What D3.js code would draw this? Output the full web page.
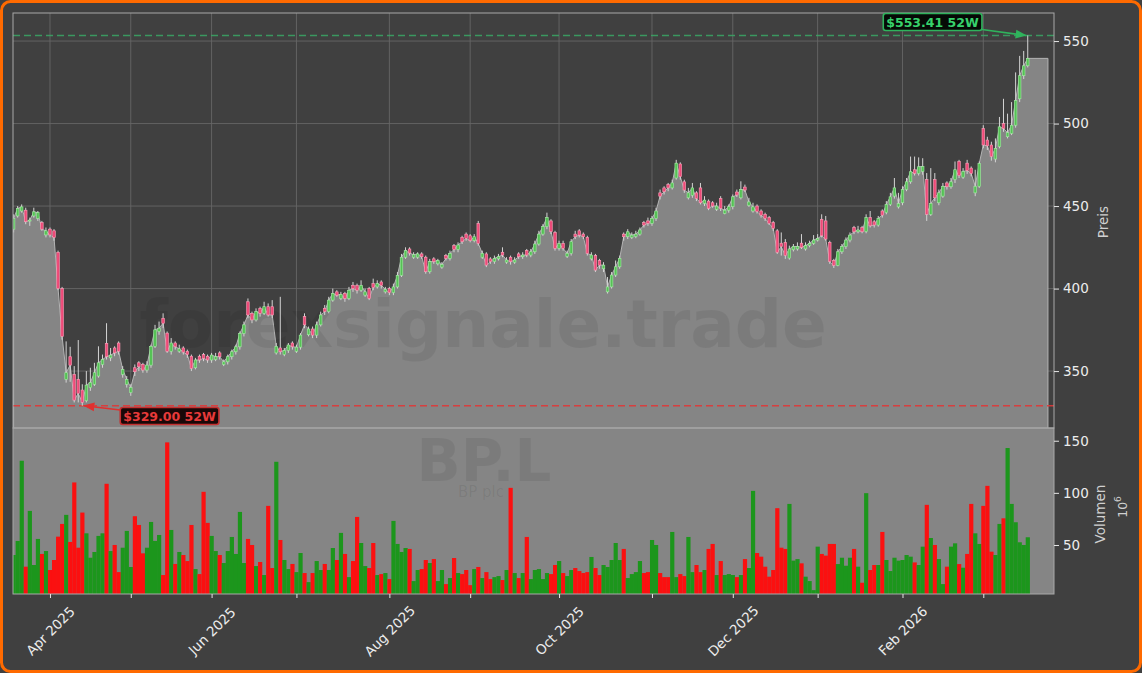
<!DOCTYPE html>
<html><head><meta charset="utf-8">
<script src="https://cdn.jsdelivr.net/npm/d3@7"></script>
<style>
html,body{margin:0;padding:0;background:#404040;}
svg{display:block;font-family:"DejaVu Sans",sans-serif;}
</style></head><body>
<svg id="chart" width="1142" height="673"></svg>
<script>
// ---------- DATA (BP.L, daily, 52 weeks) ----------
const startDate = "2025-03-19";
const holidays = ["2025-04-18","2025-04-21","2025-05-05","2025-05-26","2025-08-25","2025-12-25","2025-12-26","2026-01-01"];
const openP = [
436,444,447,447.5,441,444,442.5,440,432.5,436,
435,422,400,345,358.7,348,345,338.5,332,340,
342,347,354,366.8,358,364,367,348,342,337,
352,355,354,350.6,353.6,365,374,382,373,362,
367,362,364,362,359,352,359,360,359,356.7,
357,361,354,355.6,358.7,361.7,364.7,372.8,392,385,
381,388,385,389,389,361,364,360,362.5,367,
362,364.5,383,372,375.5,371.8,378,388,386,393,
398,394,397,394,402,402,399,396,400,403,
401,404,398,400,397.5,401,408,419,424,419,
419,421,419,410.2,418,415,413,420,418.3,426,
423.7,431,433,432,429,439.5,419,421,418,416.3,
418,422,416,419,416,421,419.3,423,420.3,422.3,
427,433,437.5,441,434,424.4,427.4,419.5,421.3,433,
435,433,431,418,420,417,412,398,401,408.2,
413.2,433,431.4,431,431.5,433,440,441,439.5,442.5,
458,461,463,461,467,475.5,464.7,455,456.5,458,
461,451.6,453,452,448,454.6,445.5,447.5,449.6,458.5,
455,461.5,450.5,447,450,447,445,443,440,435,
427.5,428,418.5,423.5,424,427.5,424,426,427.4,429.4,
442,441,428,417,414,422.3,425.4,429.4,437,434.4,
437,434.5,443,440.5,438.5,447,446,451,456,449.5,
452,460,464.7,472,469.8,471,466,445,466,452,
456,464,461.7,466,477,467.5,476,473,458,462,
497,490,487,478.5,486,500,492,494,499,515,
529,535];
const highP = [
445,450,451,449,443,449,447,441,437,437,
436,423,401,368,364.7,353,368.8,342,350,352,
355,365,360,379,364,365,368,353,347,342,
354,356,355,356,366,378,380,385,374,370,
368,366,365,363,360,358,360,361,360,361,
361,362,357,360,363,366,374,380,394,386,
388,389,392,391,393,367,395,364,367,368,
366,373,385,377,377,380,386,390,395,400,
399,398,398,401,404,403,405,400,401,406,
405,405,401,401,403,410,421,425,425,422,
422,422,420,418,419,418,416,421,423,427,
428,432,434,433,433,441,423,422,419,420,
421,425,419,420,419,422,422,424,424,429,
435,439,446,442,435,429,429,423,430,435,
436,434,432,422,421,418,416,407,410,417,
420,434,436,434,435,437,441,443,444,449,
460,462,464,466,478,476.5,466,461,464,459,
464,456,454,453,452,456,450,451,457,460,
465,463,455,452,451,448,446,444,441,436,
434,430,426,427,428,433,428,429,432.4,433,
445,444,429,418,424,427,431,434,438,438,
438,445,447,441.5,444,448,453,458,467,458,
462,467,480,480,479.5,479,470,473,470,460,
464,465,467,477,478,473,478,474,472,477,
499,492,489,491,504,515,506,513,531,541,
544,553.41];
const lowP = [
434,443,446,439,438,443,441,435,431,431,
429,399,369,343,343.5,331,331,329,331,338,
341,346,352,357,356,359,360,346,340,335,
347,350,349,349,352,364,372,376,361,360,
363,361,360,358,350,351,355,356,355,355,
356,357,353,354,357,360,363,371,382,379,
380,383,384,383,382,360,360,359,361,363,
361,363,376,371,370,370,377,384,385,392,
395,393,392,393,398,397,398,395,393,399,
400,400,397,396,396,400,407,418,420,418,
418,418,409,409,415,414,412,417,417,422,
422,427,429,428,428,426,418,413,415,415,
417,419,415,414.5,415,418,418,419,419,421,
426,432,436,433,423,423,423,418.5,420,430,
431,430,420,417,410,412,410,397,400,407,
412,429,430,430,430.5,432,437,438,438,441,
454,457,459,460,466,466,458,454,455,453,
451,450,447.5,449,447,447,445,446,448,455.5,
454,458.5,449.5,446,445.5,443,441,438.5,435,421,
420,418,417.5,422.5,423,424,423,425,426.5,428.5,
431,429,415,412.5,413.5,421,424,428,433,433.5,
433.5,433.5,437,437,437.5,443,445,450,454.5,448.5,
450.5,459,463.5,468.5,468.5,469,441,444,453,450.5,
455,460,460.5,464,467,466.5,469.5,468,456,461,
485,484,477.5,476.5,485,495,491,493,497.5,513,
527,534];
const closeP = [
442.5,448.6,449.5,440.5,441.5,446.5,446,436,435,432.5,
431,400,371,349,353.6,332.4,336.5,331,341.5,343,
349,355,357,358.7,359.7,361,362,351,345,340,
349.6,352.6,350.6,353.6,365,375,376,379,362,367,
364.7,363.5,361.5,360,351.6,356.7,356.7,357.7,356.7,359.7,
358.7,358.7,355.6,358.7,361.7,364.7,372.8,378,384,381,
386,385,389,384,384,365,361.7,362.5,365.8,364.7,
364.5,371.8,378,375.5,371.8,378,384,386,393,397,
396,396.5,394,399,400,399,402,398,394,400.7,
403,402,399.5,397.5,401,408,419,423,421.5,420.5,
421,419.3,410.2,416.3,416.3,417,414.5,418.3,421.3,423.7,
426.4,428.4,430.4,429,431.4,427.4,421.3,414.2,416.3,418.3,
419.3,420.3,417.3,416.3,417.3,419.3,420.3,420.3,422.3,427,
433,437.5,443,434.5,424.4,427.4,424.4,421.3,428.4,431.4,
432.4,431.4,421.3,420.3,411.2,414.2,414.2,401,408.2,413.2,
418.3,431.4,434.4,432.4,433,435.5,438.5,439.5,442.5,447,
456,458.7,461,464,476,467.8,459.7,458,461,454.6,
452,453.6,448.6,450,450,448.6,447.5,449.6,455.6,456.7,
460,459.7,452.5,449.5,446.6,444.5,442.5,439.5,436.5,422,
425.4,420,424,425.5,425.5,425,426,427.4,429.4,430.4,
432,430,416.3,414,422.3,425.4,429.4,432.4,434.4,435.5,
434.4,443,438,438.5,442.5,444.5,451,455.6,461,451.5,
460,464.7,470.8,469.8,473.8,474,445,451.6,455,458,
462,461.7,464.7,472,468.5,471,471.5,469.8,462,475.8,
487,486.5,480,485,498,497,494.5,499,514,529,
535,539.5];
const volumeM = [
40.4,53.9,130.8,29.2,82.7,30.8,55.8,41.4,44.2,26,
35.6,58,70.2,78.9,52.9,110,47.4,81.1,61.2,37.8,
43.3,58.7,61.2,108.7,44.2,50,24,47.4,63.5,28.9,
77.6,69.2,42,47.4,72.1,53.9,59.6,21.2,148.4,64.4,
31.8,43.3,40.4,34.6,69.2,26.9,22.1,101,71.2,58.7,
44.2,40.4,32.7,44.2,57.7,41.4,81.7,32.7,55.8,50,
29.8,33.7,21.2,87.5,27.9,129.8,54.8,35.6,26.9,31.8,
24,42.3,23.1,14.4,23.1,34.6,26,31.8,26,47.1,
35.6,61.6,41.4,19.2,34.6,76.9,51.9,29.8,27.9,51.9,
21.2,22.1,23.1,17.3,73.1,51,43.3,47.1,46.2,15.4,
26,26.9,35.6,32.7,36.5,15.4,26,12.5,18.3,37.5,
23.1,22.1,26,11.5,26.9,28.9,18.3,24,17.3,19.2,
20.2,16.4,26,104.8,23.1,18.3,23.1,57.7,17.3,26,
26.9,17.3,23.1,22.1,30.8,34.6,23.1,20.2,26,27.9,
25,23.1,24,38.5,27.9,21.2,30.8,28.9,35.6,51.9,
35.6,46.2,18.3,22.1,24,34.6,23.1,24,54.8,50,
23.1,19.2,19.2,62.5,19.2,22.1,20.2,57.7,24,30.8,
24,26,46.2,51,21.2,34.6,21.2,22.1,21.2,19.2,
21.2,36.5,27.9,101.9,42.3,38.8,29.2,19.6,26,85.3,
47.4,46.2,89.4,35,36.5,32.4,19.6,15.4,6.7,48.4,
41.4,39.8,51,51,31.7,37.8,30.1,37.8,46.2,29.2,
13.8,99.7,26,30.8,30.8,62.5,35.6,25,37.8,35,
35.6,40.4,38.8,33.3,30.8,48.4,88.5,56.7,50,36.5,
12.5,29.2,48.4,51.6,31.7,28.2,41.4,89.4,61.2,51,
87.5,106.7,43.6,40.4,70.2,75.6,143,89.4,71.8,52.6,
50,57.4];
const priceTicks = [350, 400, 450, 500, 550];
const volumeTicks = [50, 100, 150];
const high52 = 553.41, low52 = 329.00;
const high52Label = "$553.41 52W", low52Label = "$329.00 52W";
const watermark = "forexsignale.trade", ticker = "BP.L", company = "BP plc";
const areaExtendDays = 5;

// ---------- trading calendar ----------
const fmtD = d3.timeFormat("%Y-%m-%d");
const dates = [];
{ let d = d3.timeParse("%Y-%m-%d")(startDate);
  while (dates.length < closeP.length) {
    const wd = d.getDay();
    if (wd !== 0 && wd !== 6 && !holidays.includes(fmtD(d))) dates.push(new Date(d));
    d = d3.timeDay.offset(d, 1);
  } }
const monthIdx = [];
dates.forEach((d, i) => { if (i > 0 && d.getMonth() !== dates[i-1].getMonth()) monthIdx.push(i); });
const fmtM = d3.timeFormat("%b %Y");

const N = closeP.length;
const data = closeP.map((c, i) => ({i, o: openP[i], h: highP[i], l: lowP[i], c, v: volumeM[i], up: c >= openP[i]}));

// ---------- layout ----------
const L = 13, R = 1054, pTop = 13, pBot = 428, vTop = 428, vBot = 594;
const svg = d3.select("#chart");
const x = d3.scaleLinear().domain([-0.15, 257.5]).range([L, R]);
const yP = d3.scaleLinear().domain([315.5, 567]).range([pBot, pTop]);
const yV = d3.scaleLinear().domain([3, 162.2]).range([vBot, vTop]);

svg.append("rect").attr("width", 1142).attr("height", 673).attr("fill", "#404040");

const defs = svg.append("defs");
defs.append("clipPath").attr("id", "pclip").append("rect").attr("x", L).attr("y", pTop).attr("width", R - L).attr("height", pBot - pTop);
defs.append("clipPath").attr("id", "vclip").append("rect").attr("x", L).attr("y", vTop).attr("width", R - L).attr("height", vBot - vTop);
[["arrG", "#2fb35c"], ["arrR", "#e0302f"]].forEach(([id, col]) => {
  defs.append("marker").attr("id", id).attr("viewBox", "0 0 10 10").attr("refX", 9).attr("refY", 5)
    .attr("markerWidth", 7).attr("markerHeight", 7).attr("orient", "auto-start-reverse")
    .append("path").attr("d", "M0,1 L10,5 L0,9 z").attr("fill", col);
});

// price panel grid
const pg = svg.append("g").attr("clip-path", "url(#pclip)");
pg.selectAll("line.vg").data(monthIdx).join("line")
  .attr("x1", d => x(d)).attr("x2", d => x(d)).attr("y1", pTop).attr("y2", pBot)
  .attr("stroke", "#666").attr("stroke-width", 0.9);
pg.selectAll("line.hg").data(priceTicks).join("line")
  .attr("x1", L).attr("x2", R).attr("y1", d => yP(d)).attr("y2", d => yP(d))
  .attr("stroke", "#666").attr("stroke-width", 0.9);

// area of closes (extended flat past last bar)
const areaPts = data.map(d => [d.i, d.c]);
areaPts.push([N - 1 + areaExtendDays, closeP[N - 1]]);
const area = d3.area().x(d => x(d[0])).y0(pBot + 2).y1(d => yP(d[1]));
pg.append("path").datum(areaPts).attr("d", area).attr("fill", "#858585")
  .attr("stroke", "#b4b4b4").attr("stroke-width", 1);

// watermark
pg.append("text").attr("x", 483).attr("y", 347).attr("text-anchor", "middle")
  .attr("font-size", 66).attr("font-weight", "bold").attr("fill", "#000").attr("fill-opacity", 0.07)
  .text(watermark);

// 52W lines
pg.append("line").attr("x1", L).attr("x2", R).attr("y1", yP(high52)).attr("y2", yP(high52))
  .attr("stroke", "#3aa866").attr("stroke-width", 1.5).attr("stroke-dasharray", "7,4").attr("opacity", 0.85);
pg.append("line").attr("x1", L).attr("x2", R).attr("y1", yP(low52)).attr("y2", yP(low52))
  .attr("stroke", "#e03838").attr("stroke-width", 1.5).attr("stroke-dasharray", "7,4").attr("opacity", 0.9);

// candles
const bw = 2.6;
const cg = pg.append("g");
cg.selectAll("line.w").data(data).join("line")
  .attr("x1", d => x(d.i)).attr("x2", d => x(d.i)).attr("y1", d => yP(d.h)).attr("y2", d => yP(d.l))
  .attr("stroke", "#d4d4d4").attr("stroke-width", 1);
cg.selectAll("rect.b").data(data).join("rect")
  .attr("x", d => x(d.i) - bw / 2).attr("width", bw)
  .attr("y", d => yP(Math.max(d.o, d.c)))
  .attr("height", d => Math.max(1, Math.abs(yP(d.o) - yP(d.c))))
  .attr("fill", d => d.up ? "#55c255" : "#ee4a78")
  .attr("stroke", d => d.up ? "#a4eca4" : "#ff9fb9").attr("stroke-width", 0.6);

// volume panel
const vg = svg.append("g").attr("clip-path", "url(#vclip)");
vg.append("rect").attr("x", L).attr("y", vTop).attr("width", R - L).attr("height", vBot - vTop).attr("fill", "#858585");
vg.append("text").attr("x", 484).attr("y", 481).attr("text-anchor", "middle")
  .attr("font-size", 58).attr("font-weight", "bold").attr("fill", "#000").attr("fill-opacity", 0.07).text(ticker);
vg.append("text").attr("x", 481).attr("y", 497).attr("text-anchor", "middle")
  .attr("font-size", 15).attr("fill", "#000").attr("fill-opacity", 0.07).text(company);
const step = x(1) - x(0);
vg.selectAll("rect.v").data(data).join("rect")
  .attr("x", d => x(d.i) - step / 2).attr("width", step + 0.15)
  .attr("y", d => yV(d.v)).attr("height", d => vBot - yV(d.v))
  .attr("fill", d => d.up ? "#1c961c" : "#fb1010");

// panel borders
svg.append("rect").attr("x", L).attr("y", pTop).attr("width", R - L).attr("height", pBot - pTop)
  .attr("fill", "none").attr("stroke", "#a8a8a8").attr("stroke-width", 1);
svg.append("rect").attr("x", L).attr("y", vTop).attr("width", R - L).attr("height", vBot - vTop)
  .attr("fill", "none").attr("stroke", "#a8a8a8").attr("stroke-width", 1);

// axes
const styleAxis = g => {
  g.select(".domain").remove();
  g.selectAll(".tick line").attr("stroke", "#e6e6e6");
  g.selectAll(".tick text").attr("fill", "#ececec").attr("font-size", 13.5).attr("font-family", "DejaVu Sans");
};
svg.append("g").attr("transform", `translate(${R},0)`)
  .call(d3.axisRight(yP).tickValues(priceTicks).tickSize(5).tickPadding(4).tickFormat(d3.format("d")))
  .call(styleAxis);
svg.append("g").attr("transform", `translate(${R},0)`)
  .call(d3.axisRight(yV).tickValues(volumeTicks).tickSize(5).tickPadding(4).tickFormat(d3.format("d")))
  .call(styleAxis);
const xa = svg.append("g").attr("transform", `translate(0,${vBot})`)
  .call(d3.axisBottom(x).tickValues(monthIdx).tickSize(4)
    .tickFormat(i => { const m = dates[i].getMonth(); return (m % 2 === 1) ? fmtM(dates[i]) : ""; }))
  .call(styleAxis);
xa.selectAll(".tick text").attr("x", 0).attr("y", 0).attr("dy", "0.35em")
  .attr("text-anchor", "middle").attr("transform", "translate(0,37) rotate(-45)");

// axis titles
svg.append("text").attr("transform", "translate(1108,222) rotate(-90)").attr("text-anchor", "middle")
  .attr("font-size", 13.5).attr("fill", "#d0d0d0").text("Preis");
svg.append("text").attr("transform", "translate(1105,514) rotate(-90)").attr("text-anchor", "middle")
  .attr("font-size", 13.5).attr("fill", "#d0d0d0").text("Volumen");
const pw = svg.append("text").attr("transform", "translate(1127,507) rotate(-90)").attr("text-anchor", "middle")
  .attr("font-size", 12.5).attr("fill", "#d0d0d0");
pw.append("tspan").text("10");
pw.append("tspan").attr("dy", -6).attr("font-size", 9).text("6");

// annotations
const iHigh = highP.indexOf(d3.max(highP)), iLow = lowP.indexOf(d3.min(lowP));
function badge(cx, cy, label, fill, stroke, txtCol) {
  const g = svg.append("g");
  const t = g.append("text").attr("x", cx).attr("y", cy).attr("text-anchor", "middle").attr("dy", "0.36em")
    .attr("font-size", 12.5).attr("font-weight", "bold").attr("fill", txtCol).text(label);
  const bb = t.node().getBBox();
  g.insert("rect", "text").attr("x", bb.x - 3).attr("y", cy - 8.5).attr("width", bb.width + 6).attr("height", 17)
    .attr("rx", 2.5).attr("fill", fill).attr("stroke", stroke).attr("stroke-width", 1.6);
  return bb;
}
const gb = badge(932.5, 22, high52Label, "#060a06", "#2fb35c", "#37d26c");
svg.append("line").attr("x1", gb.x + gb.width + 3).attr("y1", 29.5).attr("x2", x(iHigh) - 2).attr("y2", yP(high52))
  .attr("stroke", "#2fb35c").attr("stroke-width", 1.6).attr("marker-end", "url(#arrG)");
const rb = badge(169.5, 416, low52Label, "#1a0808", "#c43030", "#e83a3a");
svg.append("line").attr("x1", rb.x - 3).attr("y1", 410).attr("x2", x(iLow) + 2).attr("y2", yP(low52))
  .attr("stroke", "#e0302f").attr("stroke-width", 1.6).attr("marker-end", "url(#arrR)");

// outer orange frame
svg.append("rect").attr("x", 1.5).attr("y", 1.5).attr("width", 1139).attr("height", 670).attr("rx", 9)
  .attr("fill", "none").attr("stroke", "#ff6a00").attr("stroke-width", 3);
</script>
</body></html>
